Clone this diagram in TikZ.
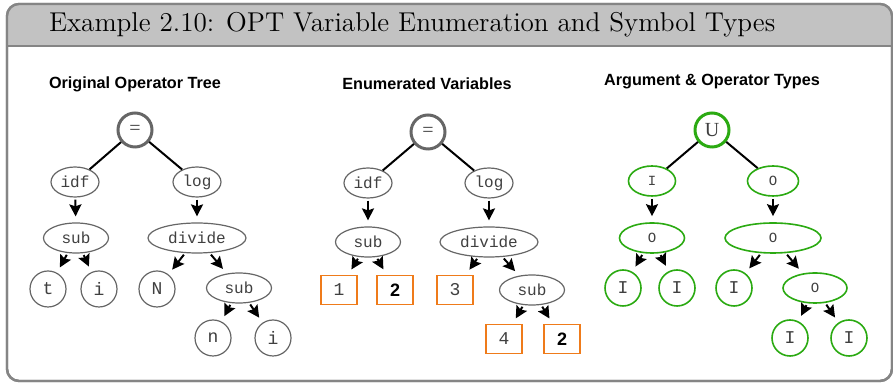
\documentclass[tikz,border=0pt]{standalone}
\usepackage{fontspec}
\usepackage{tikz}
\usetikzlibrary{shapes.geometric, arrows.meta}
\newfontfamily\headfont{Liberation Sans}
\newfontfamily\codefont{Liberation Mono}
\newfontfamily\rootfont{Liberation Serif}
\definecolor{framegray}{HTML}{858585}
\definecolor{titlegray}{HTML}{C2C2C2}
\definecolor{nodegray}{HTML}{666666}
\definecolor{textgray}{HTML}{404040}
\definecolor{typegreen}{HTML}{2BAA12}
\definecolor{varorange}{HTML}{EF7B1A}

\begin{document}
\begin{tikzpicture}[x=0.5pt, y=-0.5pt, >={Stealth[length=6pt, width=6pt, inset=1pt]}, line width=1pt]
    \tikzstyle{plain}=[-, draw=black, line width=1pt]
    \tikzstyle{arr}=[->, draw=black, line width=1pt, shorten <=1pt, shorten >=3pt]
    \tikzstyle{heading}=[font=\headfont\bfseries\fontsize{8.1}{10}\selectfont]
    \tikzstyle{oproot}=[circle, draw=nodegray, line width=1.5pt, minimum size=17pt, inner sep=0pt, text=textgray, font=\rootfont\fontsize{10}{12}\selectfont]
    \tikzstyle{opnode}=[ellipse, draw=nodegray, line width=0.6pt, minimum height=15pt, inner sep=0pt, text=textgray, font=\codefont\fontsize{8}{10}\selectfont]
    \tikzstyle{leaf}=[circle, draw=nodegray, line width=0.6pt, minimum size=18pt, inner sep=0pt, text=textgray, font=\codefont\fontsize{9}{11}\selectfont]
    \tikzstyle{varbox}=[rectangle, draw=varorange, line width=0.9pt, minimum width=18pt, minimum height=14.5pt, inner sep=0pt, text=textgray, font=\codefont\fontsize{9}{11}\selectfont]
    \tikzstyle{typeroot}=[oproot, draw=typegreen]
    \tikzstyle{typenode}=[opnode, draw=typegreen, line width=0.8pt, font=\codefont\fontsize{7}{9}\selectfont]
    \tikzstyle{typeleaf}=[leaf, draw=typegreen, line width=0.8pt]

    \useasboundingbox (0,0) rectangle (893,383);
    \filldraw[fill=white, draw=framegray, line width=1.2pt, rounded corners=6pt] (7,4) rectangle (892,381);
    \begin{scope}
        \clip[rounded corners=6pt] (7,4) rectangle (892,381);
        \fill[titlegray] (7,4) rectangle (892,46);
    \end{scope}
    \draw[framegray, line width=1.2pt, rounded corners=6pt] (7,4) rectangle (892,381);
    \draw[framegray, line width=1.2pt] (7,46) -- (892,46);
    \node[anchor=west, inner sep=0pt, font=\fontsize{13.6}{16}\selectfont] (title) at (48,25) {Example 2.10: OPT Variable Enumeration and Symbol Types};

    \node[heading] (headA) at (135,84) {Original Operator Tree};
    \node[heading] (headB) at (427,84) {Enumerated Variables};
    \node[heading] (headC) at (712,82) {Argument \& Operator Types};

    \node[oproot] (eqA) at (135,130) {=};
    \node[opnode, minimum width=24pt] (idfA) at (75,182) {idf};
    \node[opnode, minimum width=24pt] (logA) at (197,182) {log};
    \node[opnode, minimum width=32.5pt] (subA) at (76,238) {sub};
    \node[opnode, minimum width=49pt] (divA) at (197,238) {divide};
    \node[leaf] (tA) at (48,289) {t};
    \node[leaf] (iA) at (99,289) {i};
    \node[leaf] (NA) at (157,289) {N};
    \node[opnode, minimum width=32.5pt] (sub2A) at (239,288) {sub};
    \node[leaf] (nA) at (213,338) {n};
    \node[leaf] (i2A) at (273,338) {i};

    \path (eqA) edge [plain] (idfA)
          (eqA) edge [plain] (logA);
    \path (idfA) edge [arr] (subA)
          (logA) edge [arr] (divA);
    \path (subA) edge [arr] (tA)
          (subA) edge [arr] (iA);
    \path (divA) edge [arr] (NA)
          (divA) edge [arr] (sub2A);
    \path (sub2A) edge [arr] (nA)
          (sub2A) edge [arr] (i2A);

    \node[oproot] (eqB) at (428,132) {=};
    \node[opnode, minimum width=24pt] (idfB) at (368,183) {idf};
    \node[opnode, minimum width=24pt] (logB) at (489,183) {log};
    \node[opnode, minimum width=32.5pt] (subB) at (368,242) {sub};
    \node[opnode, minimum width=49pt] (divB) at (489,242) {divide};
    \node[varbox] (v1) at (339,290) {1};
    \node[varbox, font=\headfont\bfseries\fontsize{9}{11}\selectfont, text=black] (v2) at (395,290) {2};
    \node[varbox] (v3) at (455,290) {3};
    \node[opnode, minimum width=32.5pt] (sub2B) at (532,290) {sub};
    \node[varbox] (v4) at (504,339) {4};
    \node[varbox, font=\headfont\bfseries\fontsize{9}{11}\selectfont, text=black] (v5) at (562,339) {2};

    \path (eqB) edge [plain] (idfB)
          (eqB) edge [plain] (logB);
    \path (idfB) edge [arr] (subB)
          (logB) edge [arr] (divB);
    \path (subB) edge [arr] (v1)
          (subB) edge [arr] (v2);
    \path (divB) edge [arr] (v3)
          (divB) edge [arr] (sub2B);
    \path (sub2B) edge [arr] (v4)
          (sub2B) edge [arr] (v5);

    \node[typeroot] (uC) at (712,130) {U};
    \node[typenode, minimum width=23.5pt] (iC) at (652,181) {I};
    \node[typenode, minimum width=25.5pt] (oC) at (773,181) {O};
    \node[typenode, minimum width=32.5pt] (o2C) at (652,238) {O};
    \node[typenode, minimum width=48pt] (o3C) at (773,238) {O};
    \node[typeleaf] (l1) at (623,288) {I};
    \node[typeleaf] (l2) at (677,288) {I};
    \node[typeleaf] (l3) at (734,288) {I};
    \node[typenode, minimum width=32pt] (o4C) at (815,288) {O};
    \node[typeleaf] (l4) at (790,338) {I};
    \node[typeleaf] (l5) at (849,338) {I};

    \path (uC) edge [plain] (iC)
          (uC) edge [plain] (oC);
    \path (iC) edge [arr] (o2C)
          (oC) edge [arr] (o3C);
    \path (o2C) edge [arr] (l1)
          (o2C) edge [arr] (l2);
    \path (o3C) edge [arr] (l3)
          (o3C) edge [arr] (o4C);
    \path (o4C) edge [arr] (l4)
          (o4C) edge [arr] (l5);
\end{tikzpicture}
\end{document}
